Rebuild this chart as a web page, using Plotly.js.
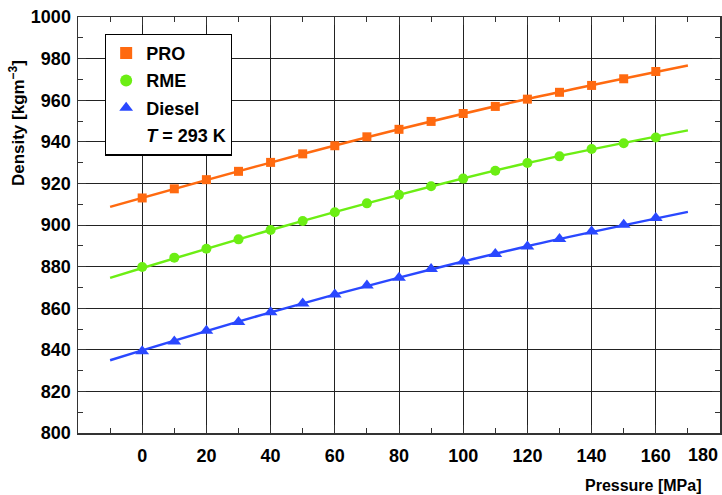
<!DOCTYPE html>
<html>
<head>
<meta charset="utf-8">
<script src="https://cdn.plot.ly/plotly-3.0.1.min.js"></script>
<style>html,body{margin:0;padding:0;background:#fff;}#chart{width:722px;height:495px;}</style>
</head>
<body>
<div id="chart"></div>
<script>
// Measured points (pressure in MPa, density in kg/m^3)
const pressure = [0,10,20,30,40,50,60,70,80,90,100,110,120,130,140,150,160];
const proDensity = [913.0,917.4,921.8,925.8,930.1,934.2,938.1,942.4,946.0,949.8,953.6,957.0,960.5,963.8,967.1,970.3,973.8];
const rmeDensity = [879.8,884.3,888.6,893.1,897.6,901.9,906.1,910.4,914.5,918.6,922.3,926.1,929.8,933.0,936.5,939.3,942.1];
const dieselDensity = [839.3,844.0,849.1,853.4,858.0,862.3,866.6,870.9,874.6,878.8,882.5,886.1,889.7,893.3,896.9,900.1,903.4];

// Fitted lines (read at the line ends and along the way)
const fitPressure = [-10, 40, 80, 120, 170];
const proFit = [908.7, 930.0, 946.0, 960.6, 976.7];
const rmeFit = [874.6, 897.6, 914.5, 929.8, 945.5];
const dieselFit = [835.0, 858.0, 874.7, 889.8, 906.3];

const xTicks = [0,20,40,60,80,100,120,140,160,180];
const yTicks = [800,820,840,860,880,900,920,940,960,980,1000];

const cPRO = '#ff6a10', cRME = '#6cee14', cDiesel = '#2a48ff';
const FONT = 'Liberation Sans, Arial, sans-serif';

const traces = [
  {x: fitPressure, y: proFit, mode: 'lines', line: {color: cPRO, width: 2.5, shape: 'spline'}, showlegend: false, hoverinfo: 'skip'},
  {x: fitPressure, y: rmeFit, mode: 'lines', line: {color: cRME, width: 2.5, shape: 'spline'}, showlegend: false, hoverinfo: 'skip'},
  {x: fitPressure, y: dieselFit, mode: 'lines', line: {color: cDiesel, width: 2.5, shape: 'spline'}, showlegend: false, hoverinfo: 'skip'},
  {x: pressure, y: proDensity, mode: 'markers', name: 'PRO', legendgroup: 'a', marker: {symbol: 'square', size: 9, color: cPRO}},
  {x: pressure, y: rmeDensity, mode: 'markers', name: 'RME', legendgroup: 'b', marker: {symbol: 'circle', size: 10, color: cRME}},
  {x: pressure, y: dieselDensity, mode: 'markers', name: 'Diesel', legendgroup: 'c', marker: {symbol: 'triangle-up', size: 12, color: cDiesel}},
  {x: [null], y: [null], mode: 'markers', name: '<i>T</i> = 293 K', legendgroup: 'd', marker: {size: 1, color: 'rgba(0,0,0,0)', line: {width: 0}}}
];

const axisCommon = {
  showline: true, linecolor: '#333', linewidth: 1.5, mirror: 'allticks',
  ticks: 'inside', ticklen: 8, tickwidth: 1, tickcolor: '#333',
  showgrid: true, gridcolor: '#222', gridwidth: 1, zeroline: false,
  tickfont: {family: FONT, size: 18, color: '#000', weight: 'bold'},
  minor: {ticks: 'inside', ticklen: 5, tickcolor: '#333', dtick: 10, showgrid: false}
};

// the last x tick label is drawn as an annotation pulled inside the page edge
const lastX = xTicks[xTicks.length - 1];

const layout = {
  width: 722, height: 495,
  margin: {l: 78, r: 2, t: 17, b: 62},
  paper_bgcolor: '#fff', plot_bgcolor: '#fff',
  font: {family: FONT, color: '#000'},
  xaxis: Object.assign({}, axisCommon, {range: [-20, 180], tickmode: 'array', tickvals: xTicks,
    ticktext: xTicks.map(v => v === lastX ? '' : String(v)), ticklabelstandoff: 6}),
  yaxis: Object.assign({}, axisCommon, {range: [800, 1000], tickmode: 'array', tickvals: yTicks, ticktext: yTicks.map(String), ticklabelstandoff: 2}),
  showlegend: true,
  legend: {
    x: 0.042, y: 0.96, xanchor: 'left', yanchor: 'top',
    bgcolor: '#fff', bordercolor: '#000', borderwidth: 1.2,
    font: {family: FONT, size: 18, color: '#000', weight: 'bold'},
    tracegroupgap: 1, itemsizing: 'constant', itemwidth: 30
  },
  annotations: [
    {text: String(lastX), xref: 'paper', yref: 'paper', x: 1.0, y: -0.052, showarrow: false,
     xanchor: 'right', yanchor: 'middle', font: {family: FONT, size: 18, color: '#000', weight: 'bold'}},
    {text: '<b>Density [kgm<sup>−3</sup>]</b>', xref: 'paper', yref: 'paper', x: -0.095, y: 0.745, textangle: -90,
     showarrow: false, xanchor: 'center', yanchor: 'middle', font: {family: FONT, size: 17, color: '#000'}},
    {text: '<b>Pressure [MPa]</b>', xref: 'paper', yref: 'paper', x: 0.975, y: -0.125, showarrow: false,
     xanchor: 'right', yanchor: 'middle', font: {family: FONT, size: 16, color: '#000'}}
  ]
};

Plotly.newPlot('chart', traces, layout, {displayModeBar: false, staticPlot: true});
</script>
</body>
</html>
